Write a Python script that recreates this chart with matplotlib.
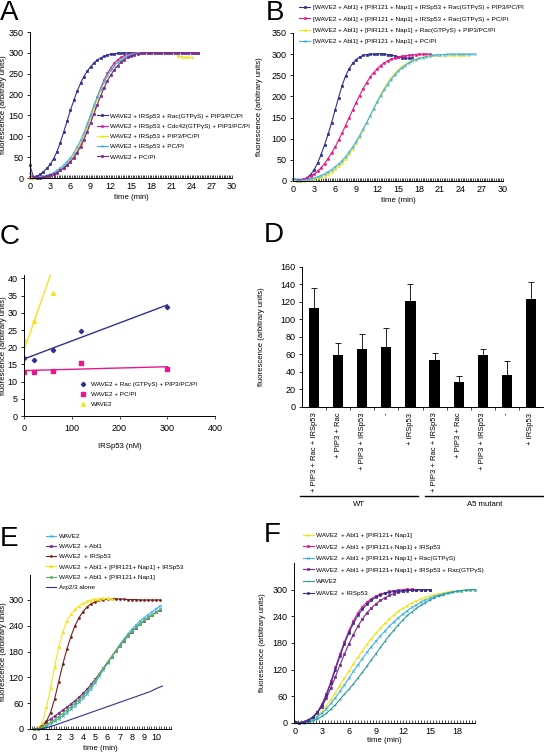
import numpy as np
import matplotlib
matplotlib.use("Agg")
import matplotlib.pyplot as plt
from matplotlib.ticker import MultipleLocator, FixedLocator

plt.rcParams['font.family'] = ['Liberation Sans', 'DejaVu Sans']
plt.rcParams['axes.linewidth'] = 0.7

# ─────────────────────────── Data ───────────────────────────

# Panel A  (sampled every 0.5 min)
A_STEP = 0.5
a_rac = [0, 1, 4, 9, 15, 23, 33, 46, 63, 85, 110, 136, 162, 186, 208, 227, 243, 256, 267, 276,
         283, 288, 292, 295, 297, 298, 299, 299, 300, 300, 300, 300, 300, 300]
a_cdc42 = [3, 0, 1, 2, 3, 5, 7, 10, 14, 19, 25, 32, 41, 52, 65, 81, 100, 122, 146, 170, 194, 216,
           235, 251, 264, 275, 283, 289, 293, 296, 298, 299, 299] + [300] * 18
a_pip3 = [0, 0, 1, 2, 3, 5, 8, 11, 15, 20, 26, 33, 42, 53, 66, 82, 100, 121, 143, 166, 189, 210,
          229, 245, 258, 269, 277, 284, 289, 293, 296, 298, 299] + [300] * 11 + [292, 291, 290, 290, 290]
a_pcpi = [12, 2, 1, 2, 4, 6, 9, 13, 18, 24, 31, 39, 48, 60, 74, 90, 109, 130, 152, 174, 195, 214,
          231, 246, 258, 269, 277, 284, 289, 293, 296, 298, 299] + [300] * 18
a_ctrl = [30, 3, 1, 1, 2, 4, 6, 9, 13, 18, 24, 31, 39, 49, 61, 75, 92, 111, 132, 154, 176, 197,
          216, 233, 247, 259, 269, 277, 284, 289, 293, 296, 298, 299] + [300] * 17
a_labels = ["WAVE2 + IRSp53 + Rac(GTPγS) + PIP3/PC/PI",
            "WAVE2 + IRSp53 + Cdc42(GTPγS) + PIP3/PC/PI",
            "WAVE2 + IRSp53 + PIP3/PC/PI",
            "WAVE2 + IRSp53 + PC/PI",
            "WAVE2 + PC/PI"]

# Panel B  (every 0.5 min)
B_STEP = 0.5
b_full = [5, 2, 2, 4, 8, 15, 26, 42, 62, 85, 110, 137, 167, 197, 225, 248, 265, 278, 287, 293,
          297, 299, 300, 300, 301, 301, 300, 299, 298, 296, 294, 292, 291, 290, 290]
b_pcpi_rac = [3, 1, 2, 4, 7, 11, 16, 23, 31, 41, 53, 66, 80, 96, 113, 131, 149, 167, 185, 202,
              218, 232, 245, 256, 265, 273, 279, 284, 288, 291, 293, 295, 296, 297, 298, 299,
              300, 300, 300, 300]
b_rac_pip3 = [3, 0, 0, 1, 2, 3, 5, 7, 10, 13, 17, 22, 28, 35, 43, 52, 63, 75, 89, 104, 120, 137,
              154, 171, 188, 204, 219, 232, 244, 254, 263, 270, 276, 281, 285, 288, 291, 293,
              295, 296, 297, 298, 299, 299, 299, 299, 299, 299, 299, 299, 299]
b_pcpi = [5, 2, 1, 2, 3, 5, 7, 10, 13, 17, 22, 27, 33, 40, 48, 57, 68, 80, 93, 107, 122, 138,
          154, 170, 186, 201, 215, 228, 240, 250, 259, 267, 273, 279, 283, 287, 290, 292, 294,
          296, 297, 298, 299, 299] + [300] * 9
b_labels = ["[WAVE2 + Abl1] + [PIR121 + Nap1] + IRSp53 + Rac(GTPγS) + PIP3/PC/PI",
            "[WAVE2 + Abl1] + [PIR121 + Nap1] + IRSp53 + Rac(GTPγS) + PC/PI",
            "[WAVE2 + Abl1] + [PIR121 + Nap1] + Rac(GTPγS) + PIP3/PC/PI",
            "[WAVE2 + Abl1] + [PIR121 + Nap1] + PC/PI"]

# Panel C
c_conc_rac = [0, 20, 60, 120, 300]
c_fl_rac = [17.0, 16.3, 19.3, 24.8, 31.7]
c_conc_pcpi = [0, 20, 60, 120, 300]
c_fl_pcpi = [12.8, 12.9, 13.0, 15.5, 13.7]
c_conc_wave = [0, 20, 60, 120]
c_fl_wave = [22.2, 27.5, 35.8, 70.0]
c_labels = ["WAVE2 + Rac (GTPγS) + PIP3/PC/PI", "WAVE2 + PC/PI", "WAVE2"]

# Panel D
d_conditions = ["+ PIP3 + Rac + IRSp53", "+ PIP3 + Rac", "+ PIP3 + IRSp53", "-", "+ IRSp53"] * 2
d_means = [113, 59, 66, 69, 121, 54, 29, 59, 36, 123]
d_err = [23, 14, 17, 21, 19, 8, 6, 7, 17, 20]
d_groups = ["WT", "A5 mutant"]

# Panel E  (every 20 s)
E_STEP = 1 / 3
e_wave = [0, 0, 2, 7, 12, 18, 24, 31, 38, 46, 54, 62, 71, 82, 94, 108, 123, 138, 153, 168, 182,
          196, 209, 221, 232, 242, 251, 259, 266, 273, 280, 287]
e_abl = [0, 3, 10, 17, 23, 30, 37, 44, 51, 58, 66, 74, 83, 93, 104, 116, 129, 142, 155, 168, 181,
         193, 205, 216, 226, 235, 244, 252, 259, 265, 271, 277]
e_irsp = [0, 2, 6, 18, 38, 70, 110, 150, 185, 215, 240, 259, 273, 284, 291, 296, 299, 301, 302,
          303, 303, 302, 302, 301, 301, 301, 300, 300, 300, 300, 300, 300]
e_full = [0, 3, 15, 50, 95, 145, 190, 225, 250, 267, 278, 286, 292, 297, 300, 302, 303, 304, 304, 303]
e_pir = [0, 1, 4, 10, 16, 22, 29, 36, 44, 52, 60, 68, 77, 88, 100, 113, 127, 141, 155, 168, 181,
         194, 206, 217, 227, 236, 245, 253, 260, 266, 272, 278]
e_arp = [0, 0, 3, 7, 12, 17, 22, 27, 32, 37, 42, 47, 52, 57, 62, 67, 72, 77, 82, 87, 94, 100]
E_ARP_STEP = 0.5
e_labels = ["WAVE2", "WAVE2  + Abl1", "WAVE2  + IRSp53",
            "WAVE2  + Abl1 + [PIR121+ Nap1] + IRSp53",
            "WAVE2  + Abl1 + [PIR121+ Nap1]", "Arp2/3 alone"]

# Panel F  (every 0.5 min)
F_STEP = 0.5
f_pir = [2, 0, 2, 5, 10, 17, 27, 39, 53, 68, 84, 101, 117, 133, 148, 163, 177, 190, 202, 213,
         224, 234, 243, 251, 258, 264, 270, 275, 279, 283, 286, 289, 291, 293, 295, 296, 297,
         298, 299, 300, 300]
f_pir_irsp = [3, 1, 3, 7, 14, 25, 42, 66, 94, 125, 155, 183, 208, 230, 248, 262, 272, 280, 286,
              290, 293, 296, 298, 299, 300, 301, 301, 300, 300, 300, 300]
f_pir_rac = [2, 0, 1, 4, 8, 14, 22, 32, 44, 57, 71, 86, 101, 116, 131, 145, 159, 172, 184, 196,
             207, 218, 228, 237, 245, 253, 260, 266, 272, 277, 281, 285, 288, 291, 293, 295, 297,
             298, 299, 300, 300]
f_pir_irsp_rac = [3, 1, 3, 7, 13, 23, 37, 56, 79, 104, 130, 155, 178, 199, 218, 234, 248, 259,
                  268, 276, 282, 287, 291, 294, 296, 298, 299, 299, 300, 300, 300]
f_wave = [1, 0, 1, 2, 5, 9, 15, 22, 31, 41, 53, 65, 76, 88, 101, 114, 128, 142, 156, 170, 184,
          197, 209, 221, 232, 242, 250, 258, 265, 271, 277, 282, 286, 289, 292, 294, 296, 298,
          299, 300, 300]
f_irsp = [2, 0, 2, 6, 13, 24, 40, 62, 90, 120, 150, 178, 203, 224, 242, 256, 267, 276, 283, 288,
          292, 294, 296, 297, 298, 299, 299, 300, 300, 300, 300]
f_labels = ["WAVE2  + Abl1 + [PIR121+ Nap1]",
            "WAVE2  + Abl1 + [PIR121+ Nap1] + IRSp53",
            "WAVE2  + Abl1 + [PIR121+ Nap1] + Rac(GTPγS)",
            "WAVE2  + Abl1 + [PIR121+ Nap1] + IRSp53 + Rac(GTPγS)",
            "WAVE2", "WAVE2  + IRSp53"]

# ─────────────────────────── Style ───────────────────────────

NAVY = "#2e3192"
MAGENTA = "#e5198b"
YELLOW = "#f2e51c"
CYAN = "#3fb3ee"
PURPLE = "#7b2a8f"
BROWN = "#7c1d1d"
GREEN = "#5bb65e"
TEAL = "#2b9a98"

W, H = 544, 755
fig = plt.figure(figsize=(W / 100, H / 100), dpi=100)

TICK_FS = 6.5
LAB_FS = 5.6
LEG_FS = 4.6
YLAB = "fluorescence (arbitrary units)"


def box(l, t, r, b):
    ax = fig.add_axes([l / W, 1 - b / H, (r - l) / W, (b - t) / H])
    ax.px = (l, t, r, b)
    return ax


def labels(ax, ylab_x, xlab_y=None, xlab="time (min)"):
    # place axis labels at pixel positions of the reference
    l, t, r, b = ax.px
    ax.set_ylabel(YLAB, fontsize=LAB_FS)
    ax.yaxis.set_label_coords((ylab_x - l) / (r - l), 0.5)
    if xlab_y is not None:
        ax.set_xlabel(xlab, fontsize=LAB_FS)
        ax.xaxis.set_label_coords(0.5, (b - xlab_y) / (b - t))


def style(ax):
    ax.spines["top"].set_visible(False)
    ax.spines["right"].set_visible(False)
    ax.tick_params(axis="y", direction="out", length=2.5, width=0.6, labelsize=TICK_FS, pad=2)
    ax.tick_params(axis="x", which="both", direction="in", length=2.5, width=0.5,
                   labelsize=TICK_FS, pad=3)


def curve(ax, vals, step, color, marker, ms, label, lw=0.8):
    t = np.arange(len(vals)) * step
    ax.plot(t, vals, color=color, marker=marker, ms=ms, lw=lw, mew=0.5, label=label, clip_on=False)


def letter(x, y, s):
    fig.text(x / W, 1 - y / H, s, fontsize=20, va="top", ha="left")


def legend(ax, anchor, spacing=0.35, **kw):
    ax.legend(loc="upper left", bbox_to_anchor=anchor, borderaxespad=0, frameon=False,
              fontsize=LEG_FS, handlelength=1.7, handletextpad=0.4, labelspacing=spacing,
              borderpad=0, **kw)


# ─────────────────────────── A ───────────────────────────
ax = box(30, 32, 232, 178)
curve(ax, a_rac, A_STEP, NAVY, "s", 1.8, a_labels[0])
curve(ax, a_cdc42, A_STEP, MAGENTA, "s", 1.3, a_labels[1])
curve(ax, a_pip3, A_STEP, YELLOW, "^", 1.5, a_labels[2])
curve(ax, a_pcpi, A_STEP, CYAN, "x", 1.6, a_labels[3])
curve(ax, a_ctrl, A_STEP, PURPLE, "s", 1.5, a_labels[4])
ax.set_xlim(0, 30)
ax.set_ylim(0, 350)
ax.xaxis.set_major_locator(MultipleLocator(3))
ax.xaxis.set_minor_locator(MultipleLocator(0.25))
ax.yaxis.set_major_locator(MultipleLocator(50))
style(ax)
labels(ax, 7, 194)
legend(ax, (0.33, 0.445), spacing=0.75)
letter(0, 0, "A")

# ─────────────────────────── B ───────────────────────────
ax = box(293, 33, 503, 181)
curve(ax, b_full, B_STEP, NAVY, "s", 1.8, b_labels[0])
curve(ax, b_pcpi_rac, B_STEP, MAGENTA, "s", 1.3, b_labels[1])
curve(ax, b_rac_pip3, B_STEP, YELLOW, "^", 1.5, b_labels[2])
curve(ax, b_pcpi, B_STEP, CYAN, "x", 1.6, b_labels[3])
ax.set_xlim(0, 30)
ax.set_ylim(0, 350)
ax.xaxis.set_major_locator(MultipleLocator(3))
ax.xaxis.set_minor_locator(MultipleLocator(0.25))
ax.yaxis.set_major_locator(MultipleLocator(50))
style(ax)
labels(ax, 263, 197)
legend(ax, (0.03, 1.19), spacing=0.9)
letter(266, 0, "B")

# ─────────────────────────── C ───────────────────────────
ax = box(24, 275, 215, 416)
ax.plot(c_conc_rac, c_fl_rac, "D", color=NAVY, ms=2.2, ls="none", label=c_labels[0])
ax.plot(c_conc_pcpi, c_fl_pcpi, "s", color=MAGENTA, ms=2.2, ls="none", label=c_labels[1])
ax.plot(c_conc_wave, c_fl_wave, "^", color=YELLOW, ms=2.8, ls="none", label=c_labels[2])
for xs, ys, col in [(c_conc_rac, c_fl_rac, NAVY), (c_conc_pcpi, c_fl_pcpi, MAGENTA),
                    (c_conc_wave, c_fl_wave, YELLOW)]:
    k, b = np.polyfit(xs, ys, 1)
    xx = np.array([min(xs), max(xs)])
    ax.plot(xx, k * xx + b, color=col, lw=1.0)
ax.set_xlim(0, 400)
ax.set_ylim(0, 41)
ax.xaxis.set_major_locator(MultipleLocator(100))
ax.yaxis.set_major_locator(MultipleLocator(5))
style(ax)
ax.tick_params(axis="x", direction="out", length=2.5)
labels(ax, 7, 443, "IRSp53 (nM)")
ax.legend(loc="upper left", bbox_to_anchor=(0.29, 0.245), borderaxespad=0, frameon=False,
          fontsize=LEG_FS, handlelength=1.2, handletextpad=0.6, labelspacing=0.7, borderpad=0)
letter(0, 224, "C")

# ─────────────────────────── D ───────────────────────────
ax = box(302, 267, 543, 407)
pos = np.arange(len(d_means))
ax.bar(pos, d_means, width=0.42, color="black")
ax.errorbar(pos, d_means, yerr=[np.zeros(len(d_err)), d_err], fmt="none", ecolor="black",
            elinewidth=0.6, capsize=2, capthick=0.6)
ax.set_xlim(-0.5, len(d_means) - 0.5)
ax.set_ylim(0, 160)
ax.yaxis.set_major_locator(MultipleLocator(20))
ax.set_xticks(pos)
ax.set_xticklabels(d_conditions, rotation=90, fontsize=5.5)
ax.set_xticks(pos[:-1] + 0.5, minor=True)
ax.spines["top"].set_visible(False)
ax.spines["right"].set_visible(False)
ax.tick_params(axis="y", direction="out", length=2.5, width=0.6, labelsize=TICK_FS, pad=2)
ax.tick_params(axis="x", which="major", length=0, pad=4)
ax.tick_params(axis="x", which="minor", direction="out", length=2.5, width=0.5)
labels(ax, 265)
trans = ax.get_xaxis_transform()
for (x0, x1), name in zip([(-0.58, 4.31), (4.6, 9.55)], d_groups):
    ax.plot([x0, x1], [-0.636, -0.636], color="black", lw=1.0, transform=trans, clip_on=False)
    ax.text((x0 + x1) / 2, -0.67, name, transform=trans, ha="center", va="top", fontsize=LAB_FS)
letter(264, 222, "D")

# ─────────────────────────── E ───────────────────────────
ax = box(30, 575, 171, 729)
curve(ax, e_wave, E_STEP, CYAN, "x", 2.0, e_labels[0])
curve(ax, e_abl, E_STEP, PURPLE, "s", 1.6, e_labels[1])
curve(ax, e_irsp, E_STEP, BROWN, "o", 1.4, e_labels[2])
curve(ax, e_full, E_STEP, YELLOW, "^", 2.0, e_labels[3])
curve(ax, e_pir, E_STEP, GREEN, "s", 1.6, e_labels[4])
curve(ax, e_arp, E_ARP_STEP, NAVY, None, 0, e_labels[5])
ax.set_xlim(-0.35, 11.2)
ax.set_ylim(0, 358)
ax.xaxis.set_major_locator(FixedLocator(range(0, 11)))
ax.xaxis.set_minor_locator(MultipleLocator(0.2))
ax.set_yticks(np.arange(0, 301, 60))
style(ax)
labels(ax, 7, 745)
legend(ax, (0.11, 1.27), spacing=0.75)
letter(0, 526, "E")

# ─────────────────────────── F ───────────────────────────
ax = box(294, 563, 475, 723)
curve(ax, f_pir, F_STEP, YELLOW, "o", 1.3, f_labels[0])
curve(ax, f_pir_irsp, F_STEP, MAGENTA, "s", 1.8, f_labels[1])
curve(ax, f_pir_rac, F_STEP, CYAN, "x", 1.8, f_labels[2])
curve(ax, f_pir_irsp_rac, F_STEP, PURPLE, "s", 1.6, f_labels[3])
curve(ax, f_wave, F_STEP, TEAL, "+", 2.0, f_labels[4])
curve(ax, f_irsp, F_STEP, NAVY, "s", 1.3, f_labels[5])
ax.set_xlim(-0.1, 20)
ax.set_ylim(0, 360)
ax.xaxis.set_major_locator(MultipleLocator(3))
ax.xaxis.set_minor_locator(MultipleLocator(1 / 3))
ax.set_yticks(np.arange(0, 301, 60))
style(ax)
labels(ax, 266, 737)
legend(ax, (0.05, 1.19), spacing=0.95)
letter(264, 522, "F")

fig.savefig("out.png", dpi=100)
